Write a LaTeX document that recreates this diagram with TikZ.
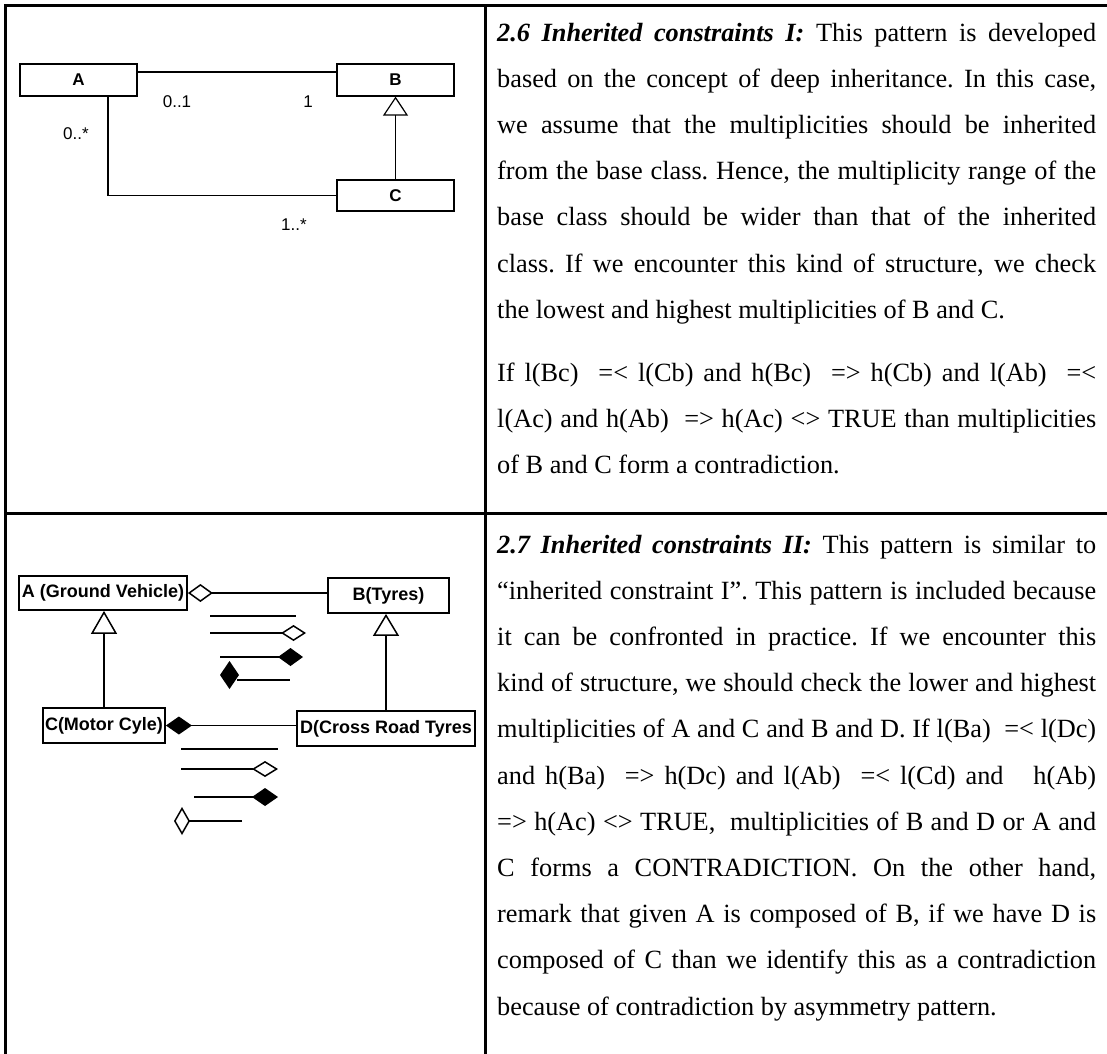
\documentclass[tikz,border=0pt]{standalone}
\usepackage{fontspec}
\setmainfont{Liberation Serif}
\setsansfont{Liberation Sans}
\usetikzlibrary{arrows.meta}
\frenchspacing

% one justified line of the description column, and a paragraph's last line
\newcommand\txtfull[1]{\noindent\makebox[\linewidth][s]{#1}\par}
\newcommand\txtlast[1]{\noindent\makebox[\linewidth][l]{#1}\par}

\begin{document}
\begin{tikzpicture}[x=1pt,y=-1pt,
  frame/.style={line width=3pt,line cap=rect,line join=miter},
  clsA/.style={draw,line width=1.2pt,rectangle,inner sep=0pt,
    font=\sffamily\bfseries\fontsize{17pt}{18pt}\selectfont},
  mult/.style={inner sep=0pt,font=\sffamily\fontsize{17pt}{19pt}\selectfont},
  clsB/.style={draw,line width=1.8pt,rectangle,inner sep=0pt,
    font=\sffamily\bfseries\fontsize{18pt}{20pt}\selectfont},
  thin/.style={line width=1.2pt},
  link/.style={line width=1.5pt},
  desc/.style={anchor=base west,inner sep=0pt}]
\useasboundingbox (0,0) rectangle (1107,1053);

% table rules
\draw[frame] (5.5,1053) -- (5.5,5) -- (1107,5);
\draw[frame] (485.5,5) -- (485.5,1053);
\draw[frame] (5.5,513.5) -- (1107,513.5);

% ---------- pattern 2.6 ----------
\node[clsA,minimum width=117pt,minimum height=32pt] (A) at (78.5,80) {A};
\node[clsA,minimum width=117pt,minimum height=32pt] (B) at (395.5,80) {B};
\node[clsA,minimum width=117pt,minimum height=31pt] (C) at (395.5,195.5) {C};
\coordinate (abrow) at (0,72);
\coordinate (accol) at (108,0);
\draw[thin] (A.east |- abrow) -- (B.west |- abrow);
\draw[thin] (A.south -| accol) |- (C.west);
\draw[thin,-{Triangle[open,length=19pt,width=25pt]}] (C.north) -- (B.south);
\node[mult] (mab) at (177,101.5) {0..1};
\node[mult] (mba) at (308,101.5) {1};
\node[mult] (mac) at (76,134) {0..*};
\node[mult] (mca) at (294,224.5) {1..*};

% ---------- pattern 2.7 ----------
\node[clsB,minimum width=168pt,minimum height=34pt] (GV) at (103,593) {A (Ground Vehicle)};
\node[clsB,minimum width=121pt,minimum height=35pt] (TY) at (388.5,595.5) {B(Tyres)};
\node[clsB,minimum width=122pt,minimum height=35pt] (MC) at (104,725.5) {C(Motor Cyle)};
\node[clsB,minimum width=178pt,minimum height=35pt] (XT) at (386,728.5) {D(Cross Road Tyres};
\draw[link,{Diamond[open,length=25pt,width=18pt]}-] (GV.east) -- (GV.east -| TY.west);
\draw[link,{Diamond[length=26pt,width=18pt]}-] (MC.east) -- (MC.east -| XT.west);
\draw[link,-{Triangle[open,length=23pt,width=26pt]}] (MC.north) -- (MC.north |- GV.south);
\draw[link,-{Triangle[open,length=22pt,width=26pt]}] (XT.north) -- (XT.north |- TY.south);

% line-end variants between the upper classes
\draw[link] (210,616) -- (296,616);
\draw[link,-{Diamond[open,length=25pt,width=16pt]}] (210,633) -- (306,633);
\draw[link,-{Diamond[length=25pt,width=18pt]}] (220,657) -- (303,657);
\fill (220,675) -- (229.5,661) -- (239,675) -- (229.5,689) -- cycle;
\draw[link] (237,680) -- (290,680);

% line-end variants below the lower classes
\draw[link] (181,749) -- (278,749);
\draw[link,-{Diamond[open,length=26pt,width=16pt]}] (181,769) -- (278,769);
\draw[link,-{Diamond[length=26pt,width=18pt]}] (194,797) -- (278,797);
\draw[link,-{Diamond[open,length=16pt,width=28pt]}] (242,821) -- (174,821);

% ---------- descriptions ----------
\node[desc] (d26) at (497,41) {\parbox[t]{599pt}{\fontsize{26.3pt}{46.2pt}\selectfont
\txtfull{{\bfseries\itshape 2.6 Inherited constraints I:} This pattern is developed}
\txtfull{based on the concept of deep inheritance. In this case,}
\txtfull{we assume that the multiplicities should be inherited}
\txtfull{from the base class. Hence, the multiplicity range of the}
\txtfull{base class should be wider than that of the inherited}
\txtfull{class. If we encounter this kind of structure, we check}
\txtlast{the lowest and highest multiplicities of B and C.}
\vskip 17pt
\txtfull{If l(Bc)\ \ =< l(Cb) and h(Bc)\ \ => h(Cb) and l(Ab)\ \ =<}
\txtfull{l(Ac) and h(Ab)\ \ => h(Ac) <> TRUE than multiplicities}
\txtlast{of B and C form a contradiction.}}};

\node[desc] (d27) at (497,553) {\parbox[t]{599pt}{\fontsize{26.3pt}{46.2pt}\selectfont
\txtfull{{\bfseries\itshape 2.7 Inherited constraints II:} This pattern is similar to}
\txtfull{“inherited constraint I”. This pattern is included because}
\txtfull{it can be confronted in practice. If we encounter this}
\txtfull{kind of structure, we should check the lower and highest}
\txtfull{multiplicities of A and C and B and D. If l(Ba)\ \ =< l(Dc)}
\txtfull{and h(Ba)\ \ => h(Dc) and l(Ab)\ \ =< l(Cd) and\ \ \ h(Ab)}
\txtfull{=> h(Ac) <> TRUE,\ \ multiplicities of B and D or A and}
\txtfull{C forms a CONTRADICTION. On the other hand,}
\txtfull{remark that given A is composed of B, if we have D is}
\txtfull{composed of C than we identify this as a contradiction}
\txtlast{because of contradiction by asymmetry pattern.}}};
\end{tikzpicture}
\end{document}
